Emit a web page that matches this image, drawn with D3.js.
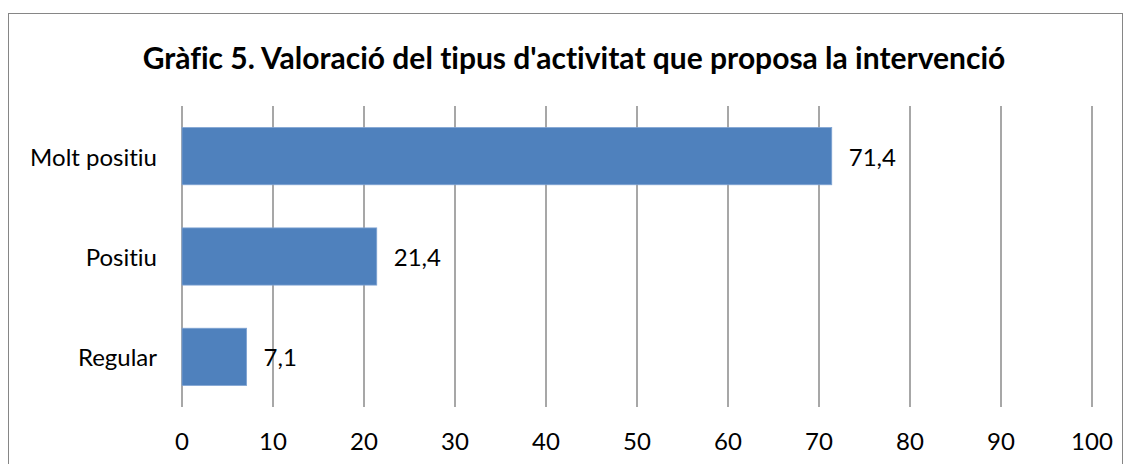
<!DOCTYPE html>
<html><head><meta charset="utf-8">
<script src="https://cdn.jsdelivr.net/npm/d3@7"></script>
<style>body{margin:0;background:#fff}svg{display:block}text{font-variant-ligatures:none}</style>
</head><body><svg id="c" width="1131" height="464"></svg>
<script>
const title = "Gràfic 5. Valoració del tipus d'activitat que proposa la intervenció";
const categories = ["Molt positiu", "Positiu", "Regular"];
const values = [71.4, 21.4, 7.1];
const valueLabels = ["71,4", "21,4", "7,1"];
const tickValues = [0,10,20,30,40,50,60,70,80,90,100];

const svg = d3.select("#c");
const font = "Lato, 'Open Sans', sans-serif";
svg.append("rect").attr("x",8.5).attr("y",13.5).attr("width",1114).attr("height",470)
  .attr("fill","#fff").attr("stroke","#868686").attr("stroke-width",1);

svg.append("text").attr("x",574).attr("y",57).attr("text-anchor","middle")
  .attr("dominant-baseline","central").attr("font-family",font).attr("font-weight","bold")
  .attr("font-size",30).attr("fill","#000").text(title);

const x = d3.scaleLinear().domain([0,100]).range([182,1092]);
const y = d3.scaleBand().domain(categories).range([106,407]).paddingInner(0.43).paddingOuter(0.215);

const g = svg.append("g");
g.selectAll("line.grid").data(tickValues).join("line").attr("class","grid")
  .attr("x1",d=>x(d)).attr("x2",d=>x(d)).attr("y1",106).attr("y2",407)
  .attr("stroke","#8a8a8a").attr("stroke-width",1.5);

g.selectAll("rect.bar").data(values).join("rect").attr("class","bar")
  .attr("x",x(0)).attr("y",(d,i)=>y(categories[i])).attr("width",d=>x(d)-x(0))
  .attr("height",y.bandwidth()).attr("fill","#4F81BD").attr("stroke","#7fa3d2").attr("stroke-width",0.8);

g.selectAll("text.val").data(values).join("text").attr("class","val")
  .attr("x",d=>x(d)+17).attr("y",(d,i)=>y(categories[i])+y.bandwidth()/2)
  .attr("dominant-baseline","central").attr("font-family",font).attr("font-size",24)
  .text((d,i)=>valueLabels[i]);

g.selectAll("text.cat").data(categories).join("text").attr("class","cat")
  .attr("x",157).attr("y",d=>y(d)+y.bandwidth()/2).attr("text-anchor","end")
  .attr("dominant-baseline","central").attr("font-family",font).attr("font-size",24).text(d=>d);

g.selectAll("text.tick").data(tickValues).join("text").attr("class","tick")
  .attr("x",d=>x(d)).attr("y",440).attr("text-anchor","middle")
  .attr("dominant-baseline","central").attr("font-family",font).attr("font-size",24).text(d=>d);
</script></body></html>
